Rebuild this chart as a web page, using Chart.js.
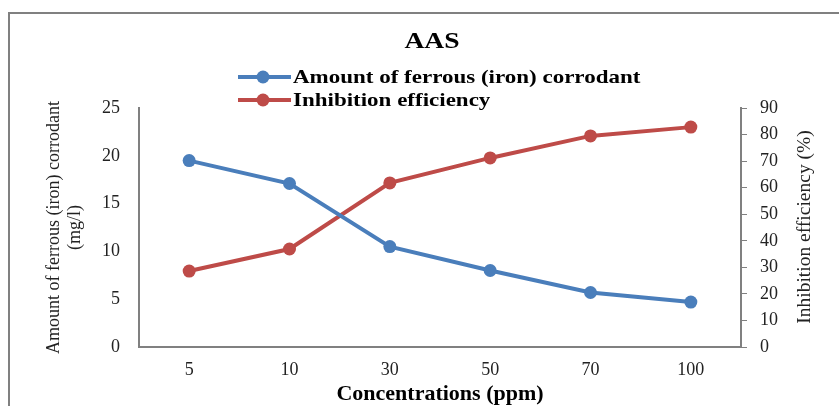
<!DOCTYPE html>
<html>
<head>
<meta charset="utf-8">
<script src="https://cdn.jsdelivr.net/npm/chart.js@4/dist/chart.umd.min.js"></script>
<style>
  html, body { margin: 0; padding: 0; background: #fff; overflow: hidden; }
  #wrap { position: relative; width: 839px; height: 406px; }
  #frame { position: absolute; left: 8px; top: 12px; width: 900px; height: 500px; border: 2px solid #808080; box-sizing: border-box; }
  canvas { position: absolute; left: 0; top: 0; }
</style>
</head>
<body>
<div id="wrap">
  <div id="frame"></div>
  <canvas id="chart" width="839" height="406"></canvas>
</div>
<script>
const concentrations = ['5', '10', '30', '50', '70', '100'];
const ironCorrodant = [19.5, 17.1, 10.5, 8.0, 5.7, 4.7];
const inhibitionEfficiency = [28.6, 36.9, 61.8, 71.2, 79.5, 82.8];

const blue = '#4a7ebb';
const red = '#be4b48';
const serif = '"Liberation Serif", "Times New Roman", serif';

// text in the reference is a bit wide, so stretch it horizontally
function wideText(ctx, text, x, y, stretch) {
    ctx.save();
    ctx.translate(x, y);
    ctx.scale(stretch, 1);
    ctx.fillText(text, 0, 0);
    ctx.restore();
}

// title, stacked legend and the right axis title (reads bottom to top)
const headerPlugin = {
    id: 'header',
    afterDraw(chart) {
        const ctx = chart.ctx;
        ctx.save();
        ctx.fillStyle = '#000';
        ctx.textBaseline = 'middle';
        ctx.textAlign = 'center';
        ctx.font = 'bold 23px ' + serif;
        wideText(ctx, 'AAS', 432, 42, 1.2);

        ctx.textAlign = 'left';
        ctx.font = 'bold 19px ' + serif;
        const rows = [77, 100];
        chart.data.datasets.forEach((ds, i) => {
            const y = rows[i];
            ctx.strokeStyle = ds.borderColor;
            ctx.lineWidth = 4;
            ctx.beginPath();
            ctx.moveTo(238, y);
            ctx.lineTo(291, y);
            ctx.stroke();
            ctx.fillStyle = ds.backgroundColor;
            ctx.beginPath();
            ctx.arc(263, y, 6.5, 0, Math.PI * 2);
            ctx.fill();
            ctx.fillStyle = '#000';
            wideText(ctx, ds.label, 293, y + 1, 1.21);
        });

        ctx.font = '19.5px ' + serif;
        ctx.fillStyle = '#222';
        ctx.textAlign = 'center';
        ctx.translate(805, 227);
        ctx.rotate(-Math.PI / 2);
        ctx.fillText('Inhibition efficiency (%)', 0, 0);
        ctx.restore();
    }
};

new Chart(document.getElementById('chart'), {
    type: 'line',
    data: {
        labels: concentrations,
        datasets: [{
            label: 'Amount of ferrous (iron) corrodant',
            data: ironCorrodant,
            yAxisID: 'y',
            borderColor: blue,
            backgroundColor: blue,
            borderWidth: 4,
            pointRadius: 6.5,
            pointBorderWidth: 0,
            tension: 0
        }, {
            label: 'Inhibition efficiency',
            data: inhibitionEfficiency,
            yAxisID: 'y1',
            borderColor: red,
            backgroundColor: red,
            borderWidth: 4,
            pointRadius: 6.5,
            pointBorderWidth: 0,
            tension: 0
        }]
    },
    options: {
        responsive: false,
        animation: false,
        layout: { padding: { top: 108, left: 0, right: 0, bottom: 0 } },
        plugins: {
            legend: { display: false },
            title: { display: false },
            tooltip: { enabled: false }
        },
        scales: {
            x: {
                offset: true,
                grid: { display: false, drawTicks: false },
                border: { display: true, color: '#808080', width: 2 },
                ticks: { color: '#222', font: { family: serif, size: 18 }, padding: 12 },
                title: {
                    display: true,
                    text: 'Concentrations (ppm)',
                    color: '#000',
                    font: { family: serif, size: 22, weight: 'bold', lineHeight: 1 },
                    padding: { top: 0, bottom: 1 }
                },
                afterFit(scale) { scale.height = 59; }
            },
            y: {
                position: 'left',
                min: 0,
                max: 25,
                grid: { display: false, drawTicks: false },
                border: { display: true, color: '#808080', width: 2 },
                ticks: { stepSize: 5, color: '#222', font: { family: serif, size: 18 }, padding: 19 },
                title: {
                    display: true,
                    text: ['Amount of ferrous (iron) corrodant', '(mg/l)'],
                    color: '#222',
                    font: { family: serif, size: 18, lineHeight: 1.2 },
                    padding: { top: 43, bottom: 0 }
                },
                afterFit(scale) { scale.width = 139; }
            },
            y1: {
                position: 'right',
                min: 0,
                max: 90,
                grid: { display: true, drawOnChartArea: false, drawTicks: true, tickLength: 6, color: '#808080' },
                border: { display: true, color: '#808080', width: 2 },
                ticks: { stepSize: 10, color: '#222', font: { family: serif, size: 18 }, padding: 13 },
                title: { display: false },
                afterFit(scale) { scale.width = 98; }
            }
        }
    },
    plugins: [headerPlugin]
});
</script>
</body>
</html>
